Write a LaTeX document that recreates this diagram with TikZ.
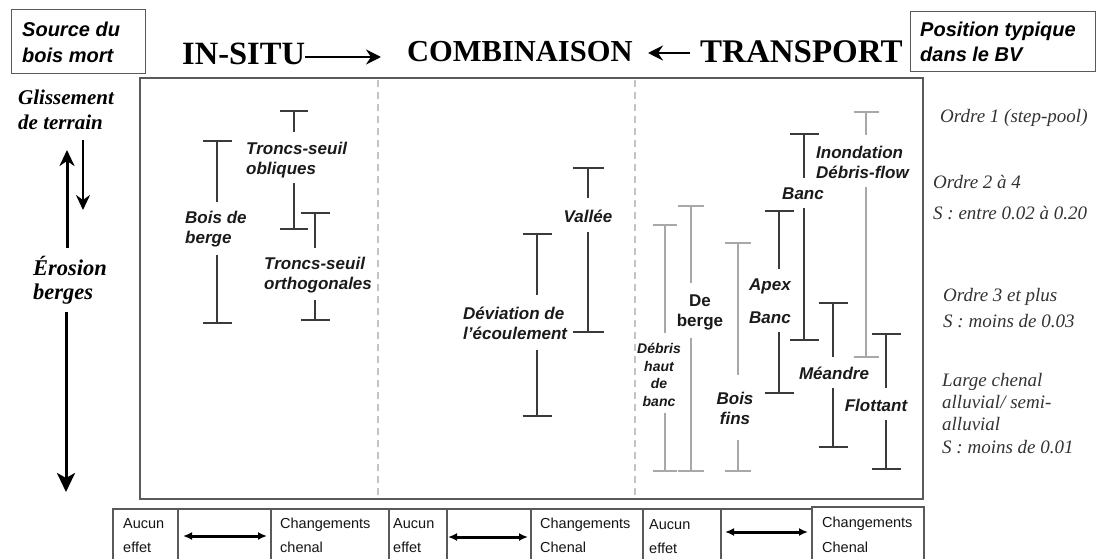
\documentclass[tikz,border=0pt]{standalone}
\usepackage{fontspec}
\setmainfont{Liberation Serif}
\setsansfont{Liberation Sans}
\usetikzlibrary{arrows.meta}
\definecolor{bardark}{HTML}{3A3A3A}
\definecolor{barlight}{HTML}{A8A8A8}
\definecolor{boxgray}{HTML}{5A5A5A}
\definecolor{dashgray}{HTML}{C4C4C4}
\definecolor{txtgray}{HTML}{333333}
\definecolor{labtxt}{HTML}{1A1A1A}
\definecolor{celltxtc}{HTML}{151515}
\newcommand\myfs[2]{\fontsize{#1}{#2}\selectfont}
\newcommand\ebar[7]{\draw[#1] (#2-#7,#3) -- (#2+#7,#3) (#2,#3) -- (#2,#4) (#2,#5) -- (#2,#6) (#2-#7,#6) -- (#2+#7,#6);}
\begin{document}
\begin{tikzpicture}[x=1pt,y=-1pt,
 dk/.style={line width=2.8pt, draw=bardark},
 lt/.style={line width=1.5pt, draw=barlight},
 lab/.style={font=\sffamily\bfseries\itshape\myfs{17}{20}, inner sep=0pt, text=labtxt},
 hdr/.style={font=\rmfamily\bfseries, inner sep=0pt, anchor=base west},
 leftlab/.style={font=\rmfamily\bfseries\itshape\myfs{21}{25}, inner sep=0pt, anchor=base west},
 eroslab/.style={font=\rmfamily\bfseries\itshape\myfs{22.5}{26}, inner sep=0pt, anchor=base west},
 righttxt/.style={font=\rmfamily\itshape\myfs{19}{22}, inner sep=0pt, anchor=base west, text=txtgray},
 boxtxt/.style={font=\sffamily\bfseries\itshape\myfs{20}{24}, inner sep=0pt, anchor=base west},
 celltxt/.style={font=\sffamily\myfs{14.5}{17}, inner sep=0pt, anchor=base west, text=celltxtc},
 cell/.style={draw=boxgray, line width=1.1pt},
 hdrarrow/.style={line width=2.4pt, -{Stealth[length=15pt,width=15pt,inset=5pt]}},
 bigarrow/.style={line width=3pt, -{Stealth[length=19pt,width=18pt,inset=5pt]}},
 tabarrow/.style={line width=3pt, {Latex[length=9pt,width=8pt]}-{Latex[length=9pt,width=8pt]}},
 dashsep/.style={draw=dashgray, line width=1.3pt, dash pattern=on 7pt off 5pt},
 mainbox/.style={draw=boxgray, line width=2.2pt},
 thinbox/.style={draw=boxgray, line width=1pt}
]
\useasboundingbox (0,0) rectangle (1097,559);
\clip (0,0) rectangle (1097,559);
\fill[white] (0,0) rectangle (1097,559);

% ---------- top boxes ----------
\draw[thinbox] (11,10) rectangle (145,74);
\node[boxtxt] (src1) at (22,37) {Source du};
\node[boxtxt] (src2) at (22,63) {bois mort};
\draw[thinbox] (910,12) rectangle (1095,72);
\node[boxtxt] (pos1) at (920,37) {Position typique};
\node[boxtxt] (pos2) at (920,62) {dans le BV};

% ---------- headers ----------
\node[hdr, font=\rmfamily\bfseries\myfs{32.5}{36}] (insitu) at (182,65) {IN-SITU};
\node[hdr, font=\rmfamily\bfseries\myfs{30.5}{36}] (combi) at (407,62) {COMBINAISON};
\node[hdr, font=\rmfamily\bfseries\myfs{33}{36}] (transp) at (700,63) {TRANSPORT};
\coordinate (a1e) at (381,57);
\coordinate (a2s) at (690,53);
\coordinate (a2e) at (648,53);
\draw[hdrarrow] (insitu.east |- a1e) -- (a1e);
\draw[hdrarrow] (a2s) -- (a2e);

% ---------- main frame ----------
\draw[mainbox] (140,78) rectangle (923,499);
\draw[dashsep] (378,80) -- (378,497);
\draw[dashsep] (635,80) -- (635,497);

% ---------- left axis ----------
\node[leftlab] (gl1) at (18,105) {Glissement};
\node[leftlab] (gl2) at (18,130) {de terrain};
\node[eroslab] (er1) at (33,275) {Érosion};
\node[eroslab] (er2) at (33,299) {berges};
\coordinate (upS) at (67,248);
\coordinate (upE) at (67,150);
\coordinate (sdS) at (83,140);
\coordinate (sdE) at (83,210);
\coordinate (ldS) at (66,312);
\coordinate (ldE) at (66,492);
\draw[line width=3pt, -{Stealth[length=16pt,width=15pt,inset=5pt]}] (upS) -- (upE);
\draw[line width=2.6pt, -{Stealth[length=15pt,width=14pt,inset=5pt]}] (sdS) -- (sdE);
\draw[bigarrow] (ldS) -- (ldE);

% ---------- right texts ----------
\node[righttxt] (r1) at (940,123) {Ordre 1 (step-pool)};
\node[righttxt] (r2) at (933,188) {Ordre 2 à 4};
\node[righttxt] (r3) at (933,219) {S : entre 0.02 à 0.20};
\node[righttxt] (r4) at (943,301) {Ordre 3 et plus};
\node[righttxt] (r5) at (943,327) {S : moins de 0.03};
\node[righttxt] (r6) at (942,386) {Large chenal};
\node[righttxt] (r7) at (942,408) {alluvial/ semi-};
\node[righttxt] (r8) at (942,430) {alluvial};
\node[righttxt] (r9) at (942,453) {S : moins de 0.01};

% ---------- bars : IN-SITU ----------
\ebar{dk}{217}{141}{202}{255}{323}{14.5}
\ebar{dk}{294}{111}{132}{183}{229}{14}
\ebar{dk}{315}{213}{248}{300}{320}{14.5}
\node[lab, align=left, anchor=west] (boisberge) at (185,229.5) {Bois de\\berge};
\node[lab, align=left, anchor=west] (obliq) at (246,160) {Troncs-seuil\\obliques};
\node[lab, align=left, anchor=west] (ortho) at (264,275) {Troncs-seuil\\orthogonales};

% ---------- bars : COMBINAISON ----------
\ebar{dk}{588}{168}{198}{232}{332}{15.5}
\ebar{dk}{537}{234}{295}{350}{416}{14.5}
\node[lab] (vallee) at (588,216.5) {Vallée};
\node[lab, align=left, anchor=west] (deviation) at (463,323.5) {Déviation de\\l’écoulement};

% ---------- bars : TRANSPORT ----------
\ebar{lt}{665}{225}{333}{413}{471}{12}
\ebar{lt}{691}{206}{283}{338}{471}{13}
\ebar{lt}{738}{243}{375}{440}{471}{13}
\ebar{lt}{866}{112}{135}{187}{357}{12.5}
\ebar{dk}{779}{211}{269}{332}{393}{14.5}
\ebar{dk}{804}{134}{178}{208}{340}{14.5}
\ebar{dk}{833}{303}{357}{388}{447}{14.5}
\ebar{dk}{886}{334}{388}{420}{469}{14.5}
\node[lab, font=\sffamily\bfseries\itshape\myfs{14}{17.7}, align=center] (debris) at (659,375) {Débris\\haut\\de\\banc};
\node[lab, font=\sffamily\bfseries\myfs{17}{20}, align=center] (deberge) at (700,312.5) {De\\berge};
\node[lab, align=center] (boisfins) at (735,408) {Bois\\fins};
\node[lab, align=center] (apex) at (770,301) {Apex\\[13pt]Banc};
\node[lab] (banc) at (803,194) {Banc};
\node[lab, align=left, anchor=west] (inond) at (816,162.5) {Inondation\\Débris-flow};
\node[lab] (meandre) at (834,373.5) {Méandre};
\node[lab] (flott) at (876,405) {Flottant};

% ---------- bottom table ----------
\foreach \a/\b in {113/178,178/271,271/389,389/447,447/531,531/643,643/721,721/812}
  \draw[cell] (\a,509) rectangle (\b,566);
\draw[cell] (812,507) rectangle (924,566);
\node[celltxt] (c1a) at (123,528) {Aucun};
\node[celltxt] (c1b) at (123,552) {effet};
\node[celltxt] (c3a) at (280,528) {Changements};
\node[celltxt] (c3b) at (280,552) {chenal};
\node[celltxt] (c4a) at (393,528) {Aucun};
\node[celltxt] (c4b) at (393,552) {effet};
\node[celltxt] (c6a) at (540,528) {Changements};
\node[celltxt] (c6b) at (540,552) {Chenal};
\node[celltxt] (c7a) at (649,529) {Aucun};
\node[celltxt] (c7b) at (649,553) {effet};
\node[celltxt] (c9a) at (822,527) {Changements};
\node[celltxt] (c9b) at (822,552) {Chenal};
\coordinate (t1s) at (183,536); \coordinate (t1e) at (267,536);
\coordinate (t2s) at (448,537); \coordinate (t2e) at (528,537);
\coordinate (t3s) at (725,532); \coordinate (t3e) at (808,532);
\draw[tabarrow] (t1s) -- (t1e);
\draw[tabarrow] (t2s) -- (t2e);
\draw[tabarrow] (t3s) -- (t3e);
\end{tikzpicture}
\end{document}
